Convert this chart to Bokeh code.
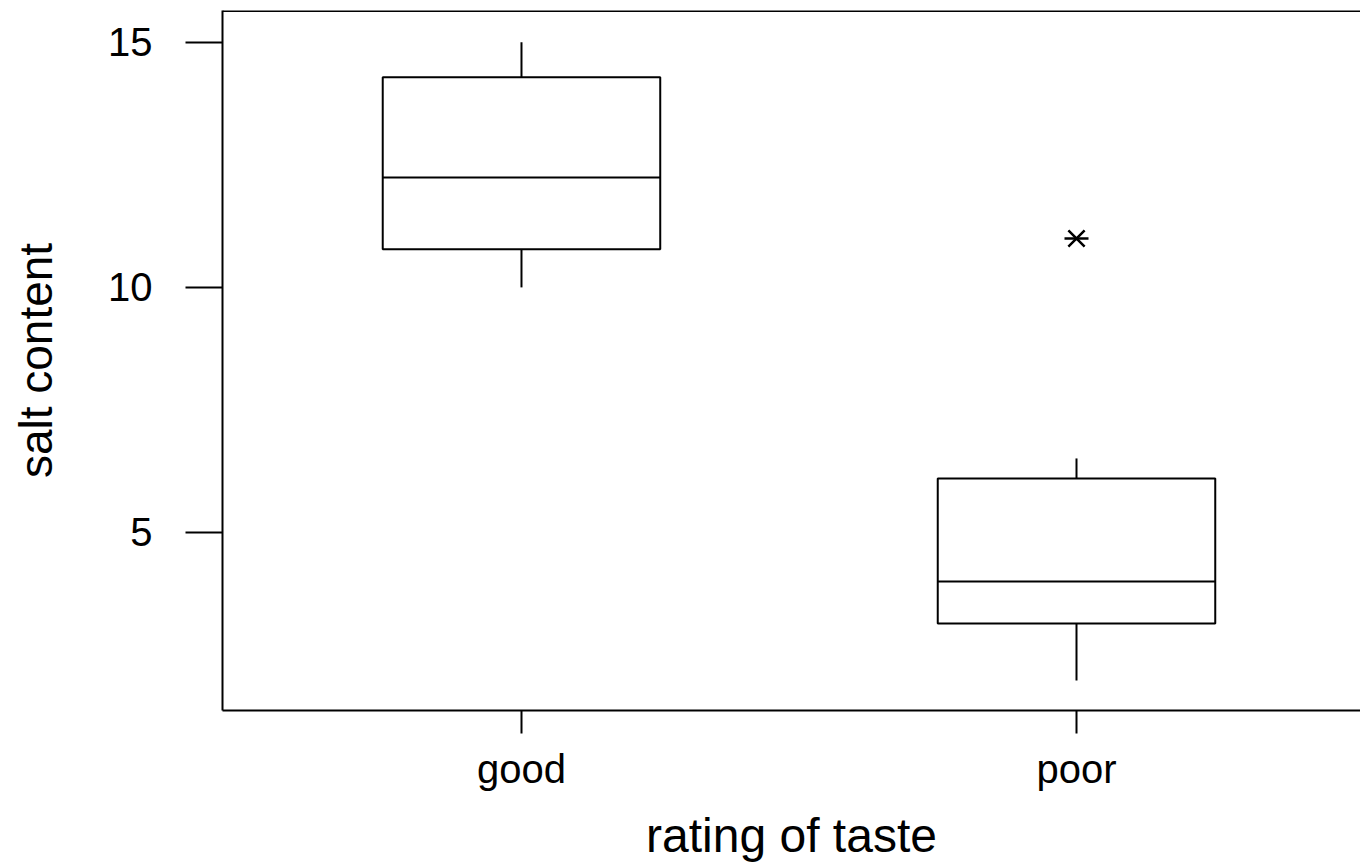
from bokeh.plotting import figure
from bokeh.embed import file_html
from bokeh.resources import INLINE
from bokeh.models import Range1d, FixedTicker, Span, ColumnDataSource

categories = ["good", "poor"]
q1 = [10.78, 3.14]
median = [12.24, 4.0]
q3 = [14.29, 6.10]
lower_whisker = [10.0, 1.98]
upper_whisker = [15.0, 6.51]
outlier_cat = ["poor"]
outlier_val = [11.0]
y_ticks = [5, 10, 15]
x_title = "rating of taste"
y_title = "salt content"

xpos = [i + 1 for i in range(len(categories))]
box_w = 0.5
src = ColumnDataSource(dict(
    x=xpos, q1=q1, q3=q3, med=median, lo=lower_whisker, hi=upper_whisker,
    left=[x - box_w / 2 for x in xpos], right=[x + box_w / 2 for x in xpos],
))
out_x = [categories.index(c) + 1 for c in outlier_cat]

FONT = "Liberation Sans"
x0, x1 = 1 - 0.5387, 2 + 0.5117
y0, y1 = 1.367, 15.65

p = figure(width=1360, height=866, output_backend="svg", toolbar_location=None,
           x_range=Range1d(x0, x1), y_range=Range1d(y0, y1),
           min_border_left=222, min_border_right=0, min_border_top=10, min_border_bottom=156)
p.outline_line_color = None
p.grid.visible = False
p.background_fill_color = "white"

# whiskers
p.segment(x0="x", y0="q3", x1="x", y1="hi", source=src, line_color="black", line_width=2)
p.segment(x0="x", y0="lo", x1="x", y1="q1", source=src, line_color="black", line_width=2)
# boxes
p.quad(left="left", right="right", bottom="q1", top="q3", source=src,
       fill_color="white", line_color="black", line_width=2)
# medians
p.segment(x0="left", y0="med", x1="right", y1="med", source=src, line_color="black", line_width=2)
# outlier asterisk
p.scatter(out_x, outlier_val, marker="x", size=23, line_color="black", line_width=2.5)
p.scatter(out_x, outlier_val, marker="dash", size=24, line_color="black", line_width=2.5)

# top border line
p.add_layout(Span(location=y1, dimension="width", line_color="black", line_width=3))

xa = p.xaxis[0]
xa.ticker = FixedTicker(ticks=xpos)
xa.major_label_overrides = {x: c for x, c in zip(xpos, categories)}
xa.axis_label = x_title
ya = p.yaxis[0]
ya.ticker = FixedTicker(ticks=y_ticks)
ya.axis_label = y_title

for ax in (xa, ya):
    ax.axis_line_color = "black"
    ax.axis_line_width = 2
    ax.major_tick_line_color = "black"
    ax.major_tick_line_width = 2
    ax.major_tick_in = 0
    ax.minor_tick_line_color = None
    ax.major_label_text_font = FONT
    ax.major_label_text_font_size = "40px"
    ax.major_label_text_color = "black"
    ax.axis_label_text_font = FONT
    ax.axis_label_text_font_style = "normal"
    ax.axis_label_text_color = "black"

xa.axis_label_text_font_size = "48px"
ya.axis_label_text_font_size = "46px"
xa.major_tick_out = 23
xa.major_label_standoff = 13
xa.axis_label_standoff = 15
ya.major_tick_out = 37
ya.major_label_standoff = 33
ya.axis_label_standoff = 43

open("out.html", "w").write(file_html(p, INLINE))
